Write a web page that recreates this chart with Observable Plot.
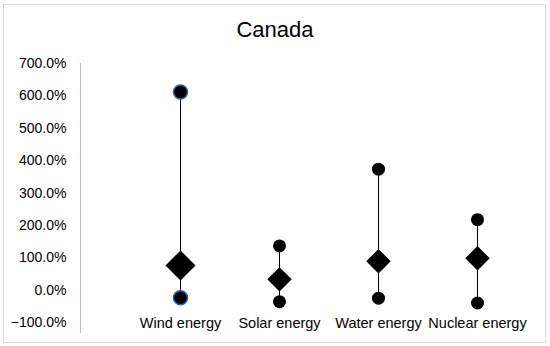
<!DOCTYPE html>
<html>
<head>
<meta charset="utf-8">
<script src="https://cdn.jsdelivr.net/npm/d3@7"></script>
<script src="https://cdn.jsdelivr.net/npm/@observablehq/plot@0.6"></script>
<style>
  body { margin: 0; background: #fff; font-family: "Liberation Sans", Arial, sans-serif; }
  #wrap { position: relative; width: 550px; height: 346px; overflow: hidden; }
  #border { position: absolute; left: 3px; top: 4px; width: 541px; height: 337px; border: 1px solid #d9d9d9; pointer-events: none; }
  #title { height: 50px; box-sizing: border-box; padding-top: 17px; line-height: 26px; font-size: 22px; text-align: center; color: #000; }
  #chart svg { display: block; }
</style>
</head>
<body>
<div id="wrap">
  <div id="border"></div>
  <div id="title">Canada</div>
  <div id="chart"></div>
</div>
<script>
const categories = ["Wind energy", "Solar energy", "Water energy", "Nuclear energy"];
const maxVals = [612, 137, 374, 218];
const meanVals = [77, 34, 90, 99];
const minVals = [-23, -35, -24, -39];
const yTicks = [-100, 0, 100, 200, 300, 400, 500, 600, 700];

const rows = categories.map((c, i) => ({cat: c, max: maxVals[i], mean: meanVals[i], min: minVals[i]}));
const ends = rows.flatMap(d => [{cat: d.cat, v: d.max}, {cat: d.cat, v: d.min}]);
const isWind = d => d.cat === "Wind energy";

const chart = Plot.plot({
  width: 550,
  height: 296,
  marginTop: 13,
  marginBottom: 14,
  marginLeft: 80,
  marginRight: 20,
  style: {fontFamily: "'Liberation Sans', Arial, sans-serif", fontSize: "14px", color: "#000", background: "transparent"},
  x: {type: "point", domain: categories, range: [179, 477.5], padding: 0, axis: null},
  y: {domain: [-130, 700], axis: null},
  r: {type: "identity"},
  marks: [
    Plot.frame({anchor: "left", stroke: "#bfbfbf"}),
    Plot.axisY({ticks: yTicks, tickSize: 0, tickPadding: 14, fontSize: 14, tickFormat: d => d3.format(".1f")(d) + "%"}),
    Plot.ruleX(rows, {x: "cat", y1: "min", y2: "max", stroke: "#000", strokeWidth: 1}),
    Plot.dot(ends, {x: "cat", y: "v", r: d => isWind(d) ? 7 : 6.5, fill: "#000",
      stroke: d => isWind(d) ? "#2f5fb0" : "#000", strokeWidth: d => isWind(d) ? 1.5 : 0}),
    Plot.dot(rows, {x: "cat", y: "mean", symbol: "diamond2", r: d => isWind(d) ? 13.5 : 11, fill: "#000"}),
    Plot.text(categories, {x: d => d, frameAnchor: "bottom", dy: -5, fontSize: 14.5, fill: "#000", text: d => d})
  ]
});
document.getElementById("chart").appendChild(chart);
</script>
</body>
</html>
